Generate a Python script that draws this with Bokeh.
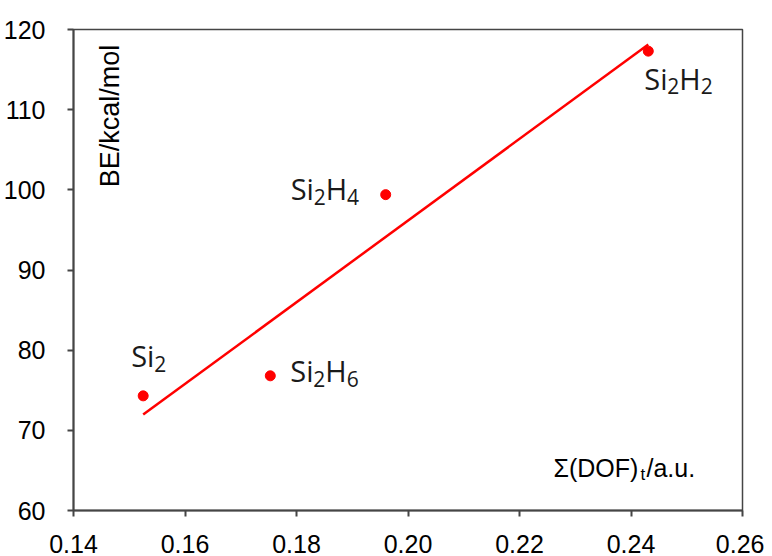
import re
import numpy as np
from bokeh.plotting import figure
from bokeh.models import ColumnDataSource, FixedTicker, NumeralTickFormatter
from bokeh.core.properties import value
from bokeh.embed import file_html
from bokeh.resources import INLINE

# ---- data ----
species = ["Si2", "Si2H6", "Si2H4", "Si2H2"]
dof_sum = [0.1525, 0.1753, 0.1960, 0.2431]
binding_energy = [74.3, 76.8, 99.4, 117.3]

x_ticks = [0.14, 0.16, 0.18, 0.20, 0.22, 0.24, 0.26]
y_ticks = [60, 70, 80, 90, 100, 110, 120]

# ---- style ----
RED = "#ff0000"
AXIS = "#454545"
TICK_FONT = "Liberation Sans"
LABEL_FONT = "Open Sans"
MAIN_PX = 29
SUB_PX = 21
SUB_DROP = 8
# per-label pixel offset of the label's left/baseline from its dot
label_offsets = {"Si2": (-12, -40), "Si2H6": (20, -5), "Si2H4": (-95, -6), "Si2H2": (-4, 27)}
CHAR_W = {"S": 0.539, "i": 0.253, "H": 0.738}
DIGIT_W = 0.572

p = figure(width=764, height=556, output_backend="svg", toolbar_location=None,
           x_range=(0.14, 0.26), y_range=(60, 120),
           min_border_left=73, min_border_right=22, min_border_top=29, min_border_bottom=46)
p.background_fill_color = "white"
p.border_fill_color = "white"
p.grid.visible = False
p.outline_line_color = AXIS
p.outline_line_width = 1.5

for ax in (p.xaxis[0], p.yaxis[0]):
    ax.axis_line_color = AXIS
    ax.axis_line_width = 2
    ax.major_tick_line_color = AXIS
    ax.major_tick_line_width = 2
    ax.major_tick_in = 0
    ax.major_tick_out = 6
    ax.minor_tick_line_color = None
    ax.major_label_text_font = TICK_FONT
    ax.major_label_text_font_size = "25px"
    ax.major_label_text_color = "black"

p.xaxis[0].ticker = FixedTicker(ticks=x_ticks)
p.xaxis[0].formatter = NumeralTickFormatter(format="0.00")
p.xaxis[0].major_label_standoff = 18
p.yaxis[0].ticker = FixedTicker(ticks=y_ticks)
p.yaxis[0].major_label_standoff = 22

# regression line through the points
coef = np.polyfit(dof_sum, binding_energy, 1)
fx = np.array([min(dof_sum), max(dof_sum)])
p.line(fx, np.polyval(coef, fx), line_color=RED, line_width=2.5)

p.scatter(dof_sum, binding_energy, size=10, fill_color=RED, line_color=RED)

# species labels with subscripts
rows = dict(x=[], y=[], text=[], xo=[], yo=[], fs=[])
for name, xv, yv in zip(species, dof_sum, binding_energy):
    dx, dy = label_offsets[name]
    cur = 0.0
    for part in re.findall(r"[A-Za-z]+|\d+", name):
        is_sub = part.isdigit()
        fs = SUB_PX if is_sub else MAIN_PX
        rows["x"].append(xv)
        rows["y"].append(yv)
        rows["text"].append(part)
        rows["xo"].append(dx + cur)
        rows["yo"].append(dy + (SUB_DROP if is_sub else 0))
        rows["fs"].append(f"{fs}px")
        cur += sum((DIGIT_W if c.isdigit() else CHAR_W.get(c, 0.6)) for c in part) * fs
p.text(x="x", y="y", text="text", x_offset="xo", y_offset="yo", text_font_size="fs",
       source=ColumnDataSource(rows), text_font=value(LABEL_FONT), text_color="#1a1a1a",
       text_align="left", text_baseline="alphabetic")

# y axis title inside the frame, rotated
p.text(x=[0.1466], y=[109.2], text=["BE/kcal/mol"], angle=np.pi / 2,
       text_font=value(TICK_FONT), text_font_size="27px", text_color="black",
       text_align="center", text_baseline="middle")

# x axis title inside the frame, with subscript t
xl_parts = ["Σ(DOF)", "t", "/a.u."]
xl_xo = [0, 87, 93]
xl_yo = [0, 6, 0]
xl_fs = ["25px", "17px", "25px"]
p.text(x=[0.2261] * 3, y=[65.3] * 3, text=xl_parts, x_offset=xl_xo, y_offset=xl_yo,
       text_font_size=xl_fs, text_font=value(TICK_FONT), text_color="black",
       text_align="left", text_baseline="alphabetic")

open("out.html", "w").write(file_html(p, INLINE))
